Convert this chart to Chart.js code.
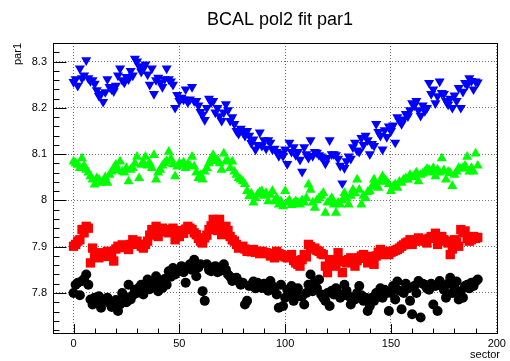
<!DOCTYPE html>
<html>
<head>
<meta charset="utf-8">
<script src="https://cdn.jsdelivr.net/npm/chart.js@4/dist/chart.umd.min.js"></script>
<style>
  html, body { margin: 0; padding: 0; background: #fff; }
  #wrap { width: 510px; height: 361px; }
</style>
</head>
<body>
<div id="wrap"><canvas id="c" width="510" height="361"></canvas></div>
<script>
// BCAL pol2 fit, parameter 1, per sector (four layers)
const chartTitle = 'BCAL pol2 fit par1';
const xTitle = 'sector';
const yTitle = 'par1';

const xTickValues = [0, 50, 100, 150, 200];
const xTickLabels = ['0', '50', '100', '150', '200'];
const yTickValues = [7.8, 7.9, 8.0, 8.1, 8.2, 8.3];
const yTickLabels = ['7.8', '7.9', '8', '8.1', '8.2', '8.3'];

const sectors = Array.from({ length: 192 }, (_, i) => i);

const layerBlue = [
  8.256, 8.262, 8.248, 8.285, 8.264, 8.270, 8.303, 8.264, 8.258, 8.260,
  8.252, 8.238, 8.226, 8.230, 8.213, 8.234, 8.262, 8.245, 8.240, 8.236,
  8.248, 8.270, 8.285, 8.260, 8.255, 8.267, 8.262, 8.280, 8.270, 8.306,
  8.300, 8.290, 8.278, 8.285, 8.294, 8.272, 8.250, 8.285, 8.230, 8.260,
  8.265, 8.255, 8.245, 8.262, 8.285, 8.262, 8.257, 8.250, 8.200, 8.228,
  8.215, 8.222, 8.218, 8.240, 8.212, 8.218, 8.245, 8.215, 8.215, 8.205,
  8.191, 8.185, 8.174, 8.200, 8.220, 8.212, 8.215, 8.190, 8.200, 8.182,
  8.172, 8.190, 8.208, 8.195, 8.172, 8.180, 8.165, 8.150, 8.144, 8.155,
  8.148, 8.140, 8.150, 8.140, 8.124, 8.132, 8.110, 8.120, 8.147, 8.118,
  8.130, 8.112, 8.130, 8.125, 8.110, 8.112, 8.105, 8.096, 8.102, 8.096,
  8.110, 8.079, 8.125, 8.105, 8.115, 8.098, 8.105, 8.088, 8.062, 8.115,
  8.100, 8.092, 8.130, 8.096, 8.105, 8.103, 8.098, 8.095, 8.090, 8.080,
  8.092, 8.130, 8.100, 8.100, 8.098, 8.090, 8.075, 8.037, 8.070, 8.085,
  8.095, 8.090, 8.115, 8.125, 8.108, 8.105, 8.135, 8.120, 8.140, 8.130,
  8.100, 8.122, 8.118, 8.165, 8.148, 8.140, 8.110, 8.152, 8.137, 8.160,
  8.150, 8.162, 8.125, 8.180, 8.172, 8.165, 8.175, 8.187, 8.182, 8.195,
  8.210, 8.205, 8.215, 8.195, 8.183, 8.205, 8.193, 8.200, 8.254, 8.230,
  8.240, 8.210, 8.225, 8.257, 8.232, 8.230, 8.215, 8.207, 8.220, 8.200,
  8.227, 8.215, 8.243, 8.200, 8.235, 8.254, 8.250, 8.264, 8.258, 8.240,
  8.257, 8.255
];

const layerGreen = [
  8.084, 8.080, 8.077, 8.070, 8.091, 8.075, 8.066, 8.060, 8.052, 8.045,
  8.034, 8.048, 8.045, 8.038, 8.041, 8.050, 8.038, 8.055, 8.062, 8.070,
  8.077, 8.065, 8.084, 8.062, 8.060, 8.070, 8.041, 8.066, 8.070, 8.080,
  8.094, 8.048, 8.077, 8.082, 8.094, 8.075, 8.080, 8.070, 8.098, 8.045,
  8.060, 8.066, 8.075, 8.080, 8.085, 8.105, 8.090, 8.078, 8.052, 8.073,
  8.080, 8.077, 8.082, 8.070, 8.078, 8.075, 8.094, 8.073, 8.060, 8.048,
  8.055, 8.045, 8.062, 8.070, 8.080, 8.090, 8.098, 8.085, 8.087, 8.080,
  8.066, 8.101, 8.085, 8.084, 8.070, 8.084, 8.062, 8.055, 8.048, 8.045,
  8.041, 8.035, 8.020, 8.009, 8.015, 7.995, 8.005, 8.013, 8.018, 8.020,
  8.010, 8.016, 7.998, 8.012, 8.020, 7.998, 8.005, 7.991, 7.998, 7.987,
  8.020, 7.995, 8.000, 7.990, 7.993, 7.998, 7.995, 7.991, 8.000, 7.995,
  8.005, 8.034, 8.023, 7.995, 7.984, 8.000, 8.005, 8.010, 8.016, 7.973,
  7.995, 7.998, 8.005, 7.991, 7.973, 7.995, 7.991, 8.000, 8.016, 8.005,
  7.991, 8.010, 8.023, 8.015, 8.045, 8.023, 7.991, 8.010, 8.005, 8.018,
  8.020, 8.030, 8.045, 8.035, 8.027, 8.040, 8.052, 8.045, 8.041, 8.035,
  8.020, 8.030, 8.035, 8.027, 8.040, 8.038, 8.045, 8.048, 8.045, 8.055,
  8.050, 8.052, 8.060, 8.041, 8.055, 8.058, 8.062, 8.068, 8.066, 8.060,
  8.070, 8.052, 8.066, 8.060, 8.091, 8.065, 8.045, 8.062, 8.059, 8.031,
  8.055, 8.062, 8.070, 8.068, 8.070, 8.075, 8.094, 8.062, 8.070, 8.062,
  8.101, 8.075
];

const layerRed = [
  7.901, 7.905, 7.912, 7.915, 7.937, 7.930, 7.944, 7.940, 7.865, 7.897,
  7.883, 7.878, 7.876, 7.887, 7.880, 7.879, 7.890, 7.885, 7.883, 7.869,
  7.895, 7.901, 7.898, 7.904, 7.900, 7.901, 7.894, 7.905, 7.915, 7.908,
  7.912, 7.905, 7.901, 7.897, 7.905, 7.912, 7.925, 7.937, 7.930, 7.944,
  7.922, 7.935, 7.940, 7.932, 7.937, 7.930, 7.935, 7.940, 7.915, 7.925,
  7.922, 7.935, 7.929, 7.938, 7.944, 7.940, 7.937, 7.930, 7.926, 7.918,
  7.912, 7.908, 7.919, 7.925, 7.937, 7.945, 7.959, 7.944, 7.935, 7.959,
  7.926, 7.940, 7.944, 7.935, 7.922, 7.915, 7.912, 7.905, 7.897, 7.900,
  7.901, 7.895, 7.890, 7.893, 7.889, 7.894, 7.888, 7.890, 7.885, 7.890,
  7.888, 7.887, 7.885, 7.880, 7.884, 7.876, 7.890, 7.885, 7.883, 7.880,
  7.878, 7.876, 7.880, 7.883, 7.870, 7.865, 7.862, 7.858, 7.872, 7.883,
  7.878, 7.905, 7.900, 7.895, 7.897, 7.892, 7.890, 7.885, 7.883, 7.858,
  7.844, 7.865, 7.872, 7.860, 7.858, 7.887, 7.868, 7.844, 7.870, 7.865,
  7.872, 7.876, 7.868, 7.858, 7.870, 7.876, 7.880, 7.883, 7.875, 7.865,
  7.872, 7.879, 7.862, 7.880, 7.888, 7.894, 7.883, 7.886, 7.890, 7.883,
  7.888, 7.890, 7.892, 7.894, 7.897, 7.901, 7.904, 7.908, 7.910, 7.915,
  7.905, 7.912, 7.915, 7.919, 7.914, 7.912, 7.916, 7.908, 7.918, 7.922,
  7.920, 7.929, 7.905, 7.918, 7.922, 7.915, 7.912, 7.908, 7.883, 7.895,
  7.915, 7.910, 7.901, 7.937, 7.930, 7.934, 7.918, 7.912, 7.915, 7.922,
  7.918, 7.920
];

const layerBlack = [
  7.800, 7.818, 7.822, 7.795, 7.826, 7.830, 7.840, 7.818, 7.786, 7.775,
  7.790, 7.779, 7.793, 7.768, 7.782, 7.786, 7.790, 7.779, 7.770, 7.775,
  7.785, 7.761, 7.775, 7.800, 7.793, 7.780, 7.818, 7.786, 7.795, 7.807,
  7.800, 7.812, 7.818, 7.797, 7.815, 7.829, 7.808, 7.822, 7.815, 7.836,
  7.804, 7.825, 7.811, 7.830, 7.818, 7.847, 7.835, 7.854, 7.840, 7.847,
  7.850, 7.858, 7.845, 7.822, 7.855, 7.862, 7.850, 7.872, 7.836, 7.855,
  7.862, 7.804, 7.783, 7.862, 7.850, 7.847, 7.855, 7.858, 7.845, 7.847,
  7.852, 7.862, 7.850, 7.840, 7.835, 7.826, 7.830, 7.833, 7.825, 7.818,
  7.822, 7.775, 7.783, 7.815, 7.818, 7.825, 7.810, 7.822, 7.815, 7.811,
  7.820, 7.815, 7.805, 7.826, 7.815, 7.810, 7.797, 7.768, 7.818, 7.772,
  7.790, 7.807, 7.797, 7.815, 7.783, 7.800, 7.810, 7.793, 7.793, 7.775,
  7.800, 7.818, 7.840, 7.804, 7.825, 7.810, 7.829, 7.797, 7.790, 7.783,
  7.800, 7.772, 7.805, 7.797, 7.810, 7.800, 7.790, 7.795, 7.818, 7.805,
  7.793, 7.775, 7.790, 7.786, 7.800, 7.815, 7.795, 7.783, 7.790, 7.761,
  7.772, 7.790, 7.783, 7.800, 7.797, 7.810, 7.790, 7.807, 7.800, 7.761,
  7.800, 7.815, 7.786, 7.825, 7.805, 7.765, 7.800, 7.820, 7.810, 7.783,
  7.754, 7.815, 7.800, 7.826, 7.747, 7.820, 7.818, 7.810, 7.807, 7.820,
  7.775, 7.815, 7.761, 7.826, 7.815, 7.807, 7.790, 7.820, 7.833, 7.800,
  7.811, 7.825, 7.786, 7.804, 7.790, 7.815, 7.818, 7.810, 7.822, 7.815,
  7.825, 7.829
];

const FONT = '"Liberation Sans", Arial, Helvetica, sans-serif';

function toPoints(values) {
  return values.map((v, i) => ({ x: sectors[i], y: v }));
}

// frame, inward tick marks and titles in the style of a ROOT canvas
const frameAndTitles = {
  id: 'frameAndTitles',
  afterDraw(chart) {
    const { ctx, chartArea: a } = chart;
    const xs = chart.scales.x, ys = chart.scales.y;
    ctx.save();
    ctx.strokeStyle = '#000';
    ctx.lineWidth = 1;
    ctx.beginPath();
    // x ticks: major every 50, minor every 10
    for (let v = 0; v <= 200; v += 10) {
      const p = Math.round(xs.getPixelForValue(v)) + 0.5;
      const len = (v % 50 === 0) ? 9 : 4.5;
      ctx.moveTo(p, a.bottom);
      ctx.lineTo(p, a.bottom - len);
    }
    // y ticks: major every 0.1, minor every 0.02
    for (let k = 386; k <= 417; k++) {
      const v = k * 0.02;
      if (v < ys.min || v > ys.max) continue;
      const p = Math.round(ys.getPixelForValue(v)) + 0.5;
      const len = (k % 5 === 0) ? 13.5 : 6.5;
      ctx.moveTo(a.left, p);
      ctx.lineTo(a.left + len, p);
    }
    ctx.stroke();
    ctx.strokeRect(Math.round(a.left) + 0.5, Math.round(a.top) + 0.5,
                   Math.round(a.right - a.left) - 1, Math.round(a.bottom - a.top));

    ctx.fillStyle = '#000';
    ctx.font = '18px ' + FONT;
    ctx.textAlign = 'center';
    ctx.textBaseline = 'alphabetic';
    ctx.fillText(chartTitle, 280, 25);

    ctx.font = '11px ' + FONT;
    ctx.textAlign = 'right';
    ctx.fillText(xTitle, 500, 358);

    ctx.translate(21, a.top);
    ctx.rotate(-Math.PI / 2);
    ctx.textAlign = 'right';
    ctx.fillText(yTitle, 0, 0);
    ctx.restore();
  }
};

const gridStyle = { color: 'rgba(0,0,0,0.55)', lineWidth: 1, drawTicks: false };

new Chart(document.getElementById('c'), {
  type: 'scatter',
  data: {
    datasets: [
      { label: 'blue', data: toPoints(layerBlue), pointStyle: 'triangle', pointRotation: 180,
        pointRadius: 5.8, pointHoverRadius: 5.8, backgroundColor: '#0000ff', borderColor: '#0000ff', pointBorderWidth: 0 },
      { label: 'green', data: toPoints(layerGreen), pointStyle: 'triangle',
        pointRadius: 5.8, pointHoverRadius: 5.8, backgroundColor: '#00ff00', borderColor: '#00ff00', pointBorderWidth: 0 },
      { label: 'red', data: toPoints(layerRed), pointStyle: 'rect',
        pointRadius: 6.6, pointHoverRadius: 6.6, backgroundColor: '#ff0000', borderColor: '#ff0000', pointBorderWidth: 0 },
      { label: 'black', data: toPoints(layerBlack), pointStyle: 'circle',
        pointRadius: 5, pointHoverRadius: 5, backgroundColor: '#000000', borderColor: '#000000', pointBorderWidth: 0 }
    ]
  },
  options: {
    responsive: false,
    animation: false,
    devicePixelRatio: 1,
    layout: { padding: { top: 43, right: 6, left: 0, bottom: 0 } },
    plugins: { legend: { display: false }, tooltip: { enabled: false }, title: { display: false } },
    scales: {
      x: {
        type: 'linear', min: -9.7, max: 200.6,
        afterFit(s) { s.height = 28; },
        afterBuildTicks(s) { s.ticks = xTickValues.map(v => ({ value: v })); },
        ticks: {
          padding: 4, color: '#000', font: { family: FONT, size: 11 },
          maxRotation: 0, autoSkip: false,
          callback: (v) => { const i = xTickValues.indexOf(v); return i >= 0 ? xTickLabels[i] : ''; }
        },
        grid: gridStyle,
        border: { display: false, dash: [1, 2] }
      },
      y: {
        type: 'linear', min: 7.7136, max: 8.34,
        afterFit(s) { s.width = 53; },
        afterBuildTicks(s) { s.ticks = yTickValues.map(v => ({ value: v })); },
        ticks: {
          padding: 6, color: '#000', font: { family: FONT, size: 11 }, autoSkip: false,
          callback: (v) => { const i = yTickValues.findIndex(t => Math.abs(t - v) < 1e-9); return i >= 0 ? yTickLabels[i] : ''; }
        },
        grid: gridStyle,
        border: { display: false, dash: [1, 2] }
      }
    }
  },
  plugins: [frameAndTitles]
});
</script>
</body>
</html>
